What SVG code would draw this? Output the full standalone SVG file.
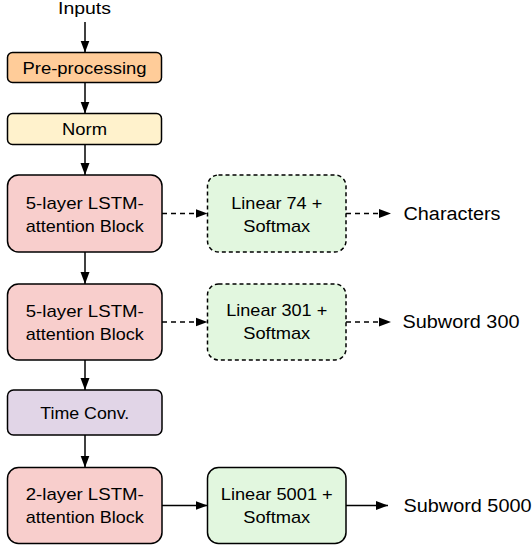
<svg xmlns="http://www.w3.org/2000/svg" width="532" height="548" viewBox="0 0 532 548">
<style>
text{font-family:"Liberation Sans",Arial,Helvetica,sans-serif;font-size:17px;fill:#000;}
.c{text-anchor:middle;}
.o{font-size:18px;}
.box{stroke:#000;stroke-width:1.5;}
.dash{stroke-dasharray:4 3;}
.ln{stroke:#000;stroke-width:1.5;fill:none;}
.ldash{stroke-dasharray:5 4;}
</style>
<defs>
<marker id="ah" markerUnits="userSpaceOnUse" markerWidth="13" markerHeight="10" refX="12" refY="5" orient="auto">
<path d="M0,0.5 L12,5 L0,9.5 z" fill="#000"/>
</marker>
</defs>
<rect width="532" height="548" fill="#fff"/>
<g id="connectors">
<line class="ln" x1="85" y1="22" x2="85" y2="52.5" marker-end="url(#ah)"/>
<line class="ln" x1="85" y1="82.5" x2="85" y2="113.5" marker-end="url(#ah)"/>
<line class="ln" x1="85" y1="144.5" x2="85" y2="175" marker-end="url(#ah)"/>
<line class="ln" x1="85" y1="252" x2="85" y2="284" marker-end="url(#ah)"/>
<line class="ln" x1="85" y1="360" x2="85" y2="390" marker-end="url(#ah)"/>
<line class="ln" x1="85" y1="435" x2="85" y2="467.5" marker-end="url(#ah)"/>
<line class="ln ldash" x1="162" y1="213.5" x2="207.5" y2="213.5" marker-end="url(#ah)"/>
<line class="ln ldash" x1="346" y1="213.5" x2="391" y2="213.5" marker-end="url(#ah)"/>
<line class="ln ldash" x1="162" y1="322" x2="207.5" y2="322" marker-end="url(#ah)"/>
<line class="ln ldash" x1="346" y1="322" x2="391" y2="322" marker-end="url(#ah)"/>
<line class="ln" x1="162" y1="505.5" x2="207.5" y2="505.5" marker-end="url(#ah)"/>
<line class="ln" x1="346" y1="505.5" x2="388" y2="505.5" marker-end="url(#ah)"/>
</g>
<g id="inputs"><text class="c" x="84.5" y="13.5" textLength="53" lengthAdjust="spacingAndGlyphs">Inputs</text></g>
<g id="preprocessing">
<rect class="box" x="7.5" y="52.5" width="154" height="30" rx="5" fill="#ffcc99"/>
<text class="c" x="84.5" y="73.5" textLength="124" lengthAdjust="spacingAndGlyphs">Pre-processing</text>
</g>
<g id="norm">
<rect class="box" x="7.5" y="113.5" width="154" height="31" rx="5" fill="#fff2cc"/>
<text class="c" x="84.5" y="135" textLength="45" lengthAdjust="spacingAndGlyphs">Norm</text>
</g>
<g id="lstm1">
<rect class="box" x="7.5" y="175" width="154.5" height="77" rx="11" fill="#f8cecc"/>
<text class="c" x="84.75" y="208.5" textLength="118" lengthAdjust="spacingAndGlyphs">5-layer LSTM-</text>
<text class="c" x="84.75" y="231.7" textLength="118" lengthAdjust="spacingAndGlyphs">attention Block</text>
</g>
<g id="lstm2">
<rect class="box" x="7.5" y="284" width="154.5" height="76" rx="11" fill="#f8cecc"/>
<text class="c" x="84.75" y="316.5" textLength="118" lengthAdjust="spacingAndGlyphs">5-layer LSTM-</text>
<text class="c" x="84.75" y="339.7" textLength="118" lengthAdjust="spacingAndGlyphs">attention Block</text>
</g>
<g id="timeconv">
<rect class="box" x="7.5" y="390" width="154.5" height="45" rx="6" fill="#e1d5e7"/>
<text class="c" x="84.75" y="418.5" textLength="89" lengthAdjust="spacingAndGlyphs">Time Conv.</text>
</g>
<g id="lstm3">
<rect class="box" x="7.5" y="467.5" width="154.5" height="76" rx="11" fill="#f8cecc"/>
<text class="c" x="84.75" y="500" textLength="118" lengthAdjust="spacingAndGlyphs">2-layer LSTM-</text>
<text class="c" x="84.75" y="523.2" textLength="118" lengthAdjust="spacingAndGlyphs">attention Block</text>
</g>
<g id="linear74">
<rect class="box dash" x="207.5" y="175" width="138.5" height="77" rx="11" fill="#e2f7df"/>
<text class="c" x="276.75" y="208.5" textLength="91" lengthAdjust="spacingAndGlyphs">Linear 74 +</text>
<text class="c" x="276.75" y="231.7" textLength="67" lengthAdjust="spacingAndGlyphs">Softmax</text>
</g>
<g id="linear301">
<rect class="box dash" x="207.5" y="284" width="138.5" height="76" rx="11" fill="#e2f7df"/>
<text class="c" x="276.75" y="316" textLength="101" lengthAdjust="spacingAndGlyphs">Linear 301 +</text>
<text class="c" x="276.75" y="339.2" textLength="67" lengthAdjust="spacingAndGlyphs">Softmax</text>
</g>
<g id="linear5001">
<rect class="box" x="207.5" y="467.5" width="138.5" height="76" rx="11" fill="#e2f7df"/>
<text class="c" x="276.75" y="500" textLength="112" lengthAdjust="spacingAndGlyphs">Linear 5001 +</text>
<text class="c" x="276.75" y="523.2" textLength="67" lengthAdjust="spacingAndGlyphs">Softmax</text>
</g>
<g id="characters"><text class="o" x="403.5" y="219.7" textLength="97" lengthAdjust="spacingAndGlyphs">Characters</text></g>
<g id="subword300"><text class="o" x="402.5" y="328.2" textLength="117" lengthAdjust="spacingAndGlyphs">Subword 300</text></g>
<g id="subword5000"><text class="o" x="403.5" y="511.7" textLength="128" lengthAdjust="spacingAndGlyphs">Subword 5000</text></g>
</svg>
